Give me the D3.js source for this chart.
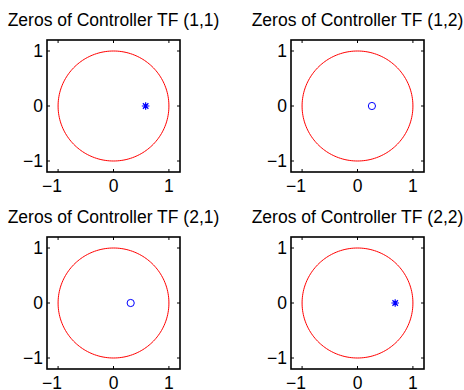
<!DOCTYPE html>
<html>
<head>
<meta charset="utf-8">
<script src="https://cdn.jsdelivr.net/npm/d3@7"></script>
<style>
  html, body { margin: 0; padding: 0; background: #fff; }
  svg { display: block; font-family: "Liberation Sans", Arial, Helvetica, sans-serif; }
</style>
</head>
<body>
<svg id="chart" width="464" height="390"></svg>
<script>
// Zeros of each controller transfer function, one per subplot (row-major order)
const titles = [
  "Zeros of Controller TF (1,1)",
  "Zeros of Controller TF (1,2)",
  "Zeros of Controller TF (2,1)",
  "Zeros of Controller TF (2,2)"
];
const zeroRe = [0.58, 0.26, 0.31, 0.68];
const zeroIm = [0, 0, 0, 0];
const markerType = ["star", "circle", "circle", "star"];
const tickValues = [-1, 0, 1];
const axisRange = [-1.2, 1.2];

const svg = d3.select("#chart");

// Subplot grid: two columns, two rows
const colLeft = [47, 291];
const rowTop = [40, 237];
const boxW = 133, boxH = 132;
const fontSize = 17.5;
const tickLen = 3;

titles.forEach((title, i) => {
  const r = Math.floor(i / 2), c = i % 2;
  const x0 = colLeft[c], y0 = rowTop[r];
  const x = d3.scaleLinear().domain(axisRange).range([x0, x0 + boxW]);
  const y = d3.scaleLinear().domain(axisRange).range([y0 + boxH, y0]);
  const g = svg.append("g");

  // Unit circle
  const circ = d3.range(0, 361, 2).map(a => [Math.cos(a * Math.PI / 180), Math.sin(a * Math.PI / 180)]);
  g.append("path")
    .attr("d", d3.line().x(d => x(d[0])).y(d => y(d[1]))(circ))
    .attr("fill", "none")
    .attr("stroke", "#ff0000")
    .attr("stroke-width", 1);

  // Zero marker
  const mx = x(zeroRe[i]), my = y(zeroIm[i]);
  if (markerType[i] === "circle") {
    g.append("circle")
      .attr("cx", mx).attr("cy", my).attr("r", 3.6)
      .attr("fill", "none").attr("stroke", "#0000ff").attr("stroke-width", 1);
  } else {
    const s = 3.8, d = s * 0.72;
    const arms = `M${mx - s},${my}L${mx + s},${my}M${mx},${my - s}L${mx},${my + s}` +
                 `M${mx - d},${my - d}L${mx + d},${my + d}M${mx - d},${my + d}L${mx + d},${my - d}`;
    g.append("path").attr("d", arms)
      .attr("stroke", "#0000ff").attr("stroke-width", 1.2).attr("fill", "none");
  }

  // Inward ticks on all four sides
  const tk = g.append("g").attr("stroke", "#000").attr("stroke-width", 1);
  tickValues.forEach(v => {
    tk.append("line").attr("x1", x(v)).attr("x2", x(v)).attr("y1", y0 + boxH).attr("y2", y0 + boxH - tickLen);
    tk.append("line").attr("x1", x(v)).attr("x2", x(v)).attr("y1", y0).attr("y2", y0 + tickLen);
    tk.append("line").attr("y1", y(v)).attr("y2", y(v)).attr("x1", x0).attr("x2", x0 + tickLen);
    tk.append("line").attr("y1", y(v)).attr("y2", y(v)).attr("x1", x0 + boxW).attr("x2", x0 + boxW - tickLen);
  });

  // Axes box
  g.append("rect")
    .attr("x", x0).attr("y", y0).attr("width", boxW).attr("height", boxH)
    .attr("fill", "none").attr("stroke", "#000").attr("stroke-width", 1.6);

  const fmt = v => (v < 0 ? "\u2212" : "") + Math.abs(v);

  // X tick labels
  tickValues.forEach(v => {
    g.append("text")
      .attr("x", x(v)).attr("y", y0 + boxH + 19.5)
      .attr("dx", v < 0 ? -6 : 0)
      .attr("text-anchor", "middle")
      .attr("font-size", fontSize)
      .text(fmt(v));
  });

  // Y tick labels
  tickValues.forEach(v => {
    g.append("text")
      .attr("x", x0 - 4).attr("y", y(v))
      .attr("dy", "0.36em")
      .attr("text-anchor", "end")
      .attr("font-size", fontSize)
      .text(fmt(v));
  });

  // Title
  g.append("text")
    .attr("x", x0 + boxW / 2).attr("y", y0 - 14)
    .attr("text-anchor", "middle")
    .attr("font-size", fontSize)
    .text(title);
});
</script>
</body>
</html>
